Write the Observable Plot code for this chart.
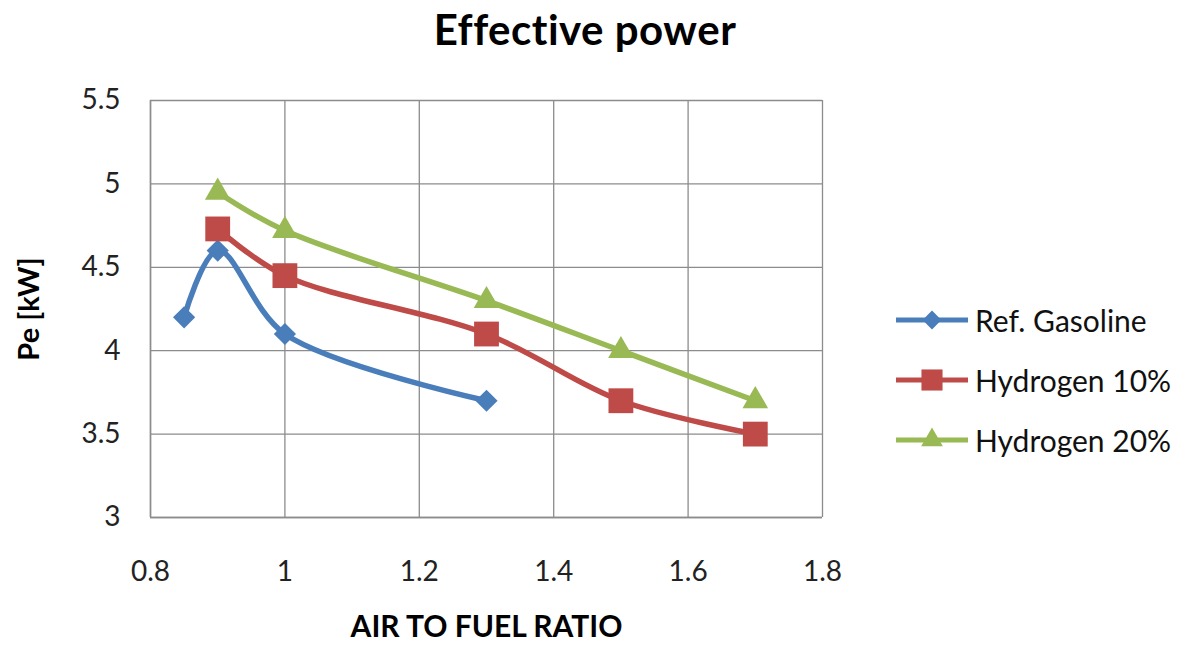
<!DOCTYPE html>
<html>
<head>
<meta charset="utf-8">
<script src="https://cdn.jsdelivr.net/npm/d3@7"></script>
<script src="https://cdn.jsdelivr.net/npm/@observablehq/plot@0.6"></script>
<style>
  html, body { margin: 0; padding: 0; background: #fff; }
  #wrap { position: relative; width: 1181px; height: 650px; font-family: Lato, "Open Sans", sans-serif; color: #000; }
  #title { position: absolute; left: 0; width: 1170px; top: 4px; text-align: center; font-size: 42px; font-weight: bold; letter-spacing: 0.5px; }
  #chart { position: absolute; left: 0; top: 0; }
  #legend { position: absolute; left: 895px; top: 300px; font-size: 30px; color: #111; }
  .item { position: absolute; left: 0; height: 40px; display: flex; align-items: center; white-space: nowrap; }
  .item svg { margin-right: 6px; }
</style>
</head>
<body>
<div id="wrap">
  <div id="chart"></div>
  <div id="title">Effective power</div>
  <div id="legend"></div>
</div>
<script>
// Air-to-fuel ratio vs effective power for three fuel mixes
const seriesNames = ["Ref. Gasoline", "Hydrogen 10%", "Hydrogen 20%"];
const seriesColors = ["#4a7ebb", "#be4b48", "#98b954"];
const seriesSymbols = ["diamond2", "square", "triangle"];
const seriesRadius = [10, 14, 9.5];

const gasolineX = [0.85, 0.9, 1.0, 1.3];
const gasolineY = [4.2, 4.6, 4.1, 3.7];
const h10X = [0.9, 1.0, 1.3, 1.5, 1.7];
const h10Y = [4.73, 4.45, 4.1, 3.7, 3.5];
const h20X = [0.9, 1.0, 1.3, 1.5, 1.7];
const h20Y = [4.95, 4.72, 4.3, 4.0, 3.7];

const xTicks = [0.8, 1, 1.2, 1.4, 1.6, 1.8];
const yTicks = [3, 3.5, 4, 4.5, 5, 5.5];

const table = (name, xs, ys) => xs.map((x, i) => ({series: name, ratio: x, power: ys[i]}));
const rows = [
  ...table(seriesNames[0], gasolineX, gasolineY),
  ...table(seriesNames[1], h10X, h10Y),
  ...table(seriesNames[2], h20X, h20Y)
];

const plot = Plot.plot({
  width: 1181,
  height: 650,
  marginLeft: 150,
  marginRight: 359,
  marginTop: 100,
  marginBottom: 133,
  style: {fontFamily: "Lato, 'Open Sans', sans-serif", fontSize: "28px", color: "#222", background: "#fff"},
  x: {domain: [0.8, 1.8], ticks: xTicks, tickSize: 0, tickPadding: 44, label: null, tickFormat: d => String(d)},
  y: {domain: [3, 5.5], ticks: yTicks, tickSize: 0, tickPadding: 30, label: null, tickFormat: d => String(d)},
  color: {domain: seriesNames, range: seriesColors},
  symbol: {domain: seriesNames, range: seriesSymbols},
  marks: [
    Plot.gridX(xTicks, {stroke: "#8c8c8c", strokeOpacity: 1, strokeWidth: 1.3}),
    Plot.gridY(yTicks, {stroke: "#8c8c8c", strokeOpacity: 1, strokeWidth: 1.3}),
    Plot.ruleX([0.8], {stroke: "#8c8c8c", strokeWidth: 1.5}),
    Plot.ruleY([3], {stroke: "#8c8c8c", strokeWidth: 1.5}),
    Plot.axisX(xTicks, {tickSize: 0, tickPadding: 44, fontSize: 28, tickFormat: d => String(d), label: null}),
    Plot.axisY(yTicks, {tickSize: 0, tickPadding: 30, fontSize: 28, tickFormat: d => String(d), label: null}),
    Plot.line(rows, {x: "ratio", y: "power", z: "series", stroke: "series", strokeWidth: 5.5, curve: "catmull-rom"}),
    ...seriesNames.map((name, i) =>
      Plot.dot(rows.filter(d => d.series === name), {
        x: "ratio", y: "power", symbol: () => seriesSymbols[i], fill: seriesColors[i], stroke: "none", r: seriesRadius[i]
      })
    ),
    Plot.text(["AIR TO FUEL RATIO"], {frameAnchor: "bottom", dy: 119, fontSize: 30, fontWeight: "bold", fill: "#000"}),
    Plot.text(["Pe [kW]"], {frameAnchor: "left", textAnchor: "middle", dx: -121, rotate: -90, fontSize: 29, fontWeight: "bold", fill: "#000"})
  ]
});
document.getElementById("chart").appendChild(plot);

// Legend: a short line with the series marker in its middle, then the name
const legend = d3.select("#legend");
const rowTop = [0, 60, 120];
seriesNames.forEach((name, i) => {
  const item = legend.append("div").attr("class", "item").style("top", rowTop[i] + "px");
  const svg = item.append("svg").attr("width", 74).attr("height", 30);
  svg.append("line").attr("x1", 1).attr("x2", 73).attr("y1", 15).attr("y2", 15)
    .attr("stroke", seriesColors[i]).attr("stroke-width", 5);
  const symType = {diamond2: d3.symbolDiamond2, square: d3.symbolSquare, triangle: d3.symbolTriangle}[seriesSymbols[i]];
  const r = seriesRadius[i] * 0.85;
  svg.append("path").attr("transform", "translate(37,15)")
    .attr("d", d3.symbol(symType, Math.PI * r * r)())
    .attr("fill", seriesColors[i]);
  item.append("span").text(name);
});
</script>
</body>
</html>
